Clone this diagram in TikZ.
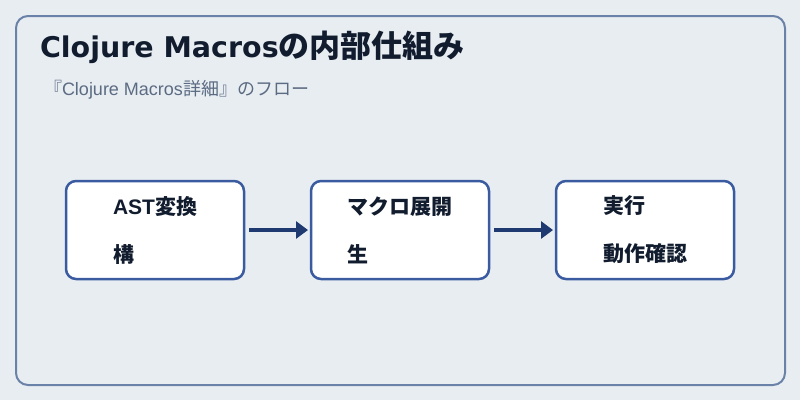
\documentclass[tikz,border=0pt]{standalone}
\usepackage{fontspec}
\setmainfont{Liberation Sans}
\newfontfamily\jp{Noto Sans CJK JP}
\newfontfamily\titlelatin{DejaVu Sans}
\usetikzlibrary{arrows.meta,positioning}
\definecolor{pagebg}{HTML}{E8EDF2}
\definecolor{panelline}{HTML}{6B82A8}
\definecolor{boxline}{HTML}{3A5BA0}
\definecolor{flowarrow}{HTML}{1E3A70}
\definecolor{inktext}{HTML}{111C2E}
\definecolor{subtext}{HTML}{5B6B82}
\begin{document}
\begin{tikzpicture}[x=1pt,y=-1pt, node distance=67pt, every node/.style={inner sep=0pt,outer sep=0pt}, stage/.style={draw=boxline,fill=white,line width=2.5pt,rounded corners=10pt,minimum width=178pt,minimum height=98pt,align=left,text=inktext,font=\fontsize{21}{48}\selectfont\bfseries}, flow/.style={->,flowarrow,line width=4pt,shorten <=5pt,shorten >=3pt}, >={Triangle[length=12pt,width=17pt]}]
\fill[pagebg] (0,0) rectangle (800,400);
\draw[panelline,line width=2pt,rounded corners=12pt] (16,16) rectangle (785,385);
\node[anchor=base west,text=inktext,font=\bfseries] (title) at (40,57) {\fontsize{28.5}{30}\titlelatin Clojure Macros\fontsize{31}{31}\jp の内部仕組み};
\node[anchor=base west,text=subtext,font=\fontsize{18}{18}\selectfont] (subtitle) at (44,95) {{\jp 『}Clojure Macros{\jp 詳細』のフロー}};
\node[stage] (ast) at (155,230) {AST{\jp 変換}\\{\jp 構}};
\node[stage,right=of ast] (expand) {{\jp マクロ展開}\\{\jp 生}};
\node[stage,right=of expand] (run) {{\jp 実行}\\{\jp 動作確認}};
\draw[flow] (ast)--(expand);\draw[flow] (expand)--(run);
\end{tikzpicture}
\end{document}
